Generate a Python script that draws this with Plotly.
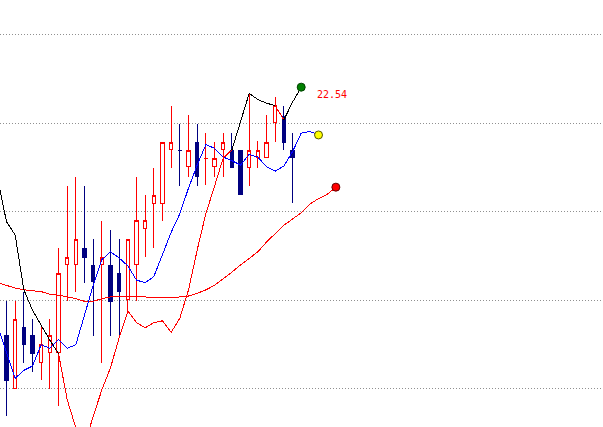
import plotly.graph_objects as go

# ---- candle data (bar index 0..33) ----
opens  = [19.60, 19.01, 19.70, 19.60, 19.30, 19.41, 19.41, 20.41, 20.41, 20.59,
          20.40, 20.41, 20.40, 20.30, 20.01, 20.41, 20.81, 21.10, 21.10, 21.71,
          21.69, 21.51, 21.79, 21.60, 21.51, 21.71, 21.70, 21.70, 21.50, 21.61,
          21.61, 22.01, 22.08, 21.70]
highs  = [19.99, 19.99, 20.10, 19.79, 19.70, 19.79, 20.59, 21.29, 21.40, 21.29,
          20.69, 20.90, 20.80, 20.69, 20.69, 21.40, 21.19, 21.50, 21.79, 22.20,
          21.99, 22.10, 21.99, 21.89, 21.79, 21.89, 21.89, 21.70, 22.34, 21.80,
          22.10, 22.30, 22.20, 21.89]
lows   = [18.69, 19.01, 19.29, 19.19, 19.10, 19.00, 18.81, 19.99, 20.10, 20.20,
          19.60, 19.29, 19.60, 19.61, 19.88, 19.99, 20.49, 20.59, 20.90, 21.50,
          21.29, 21.40, 21.29, 21.30, 21.40, 21.40, 21.50, 21.20, 21.29, 21.50,
          21.61, 21.79, 21.70, 21.10]
closes = [19.10, 19.79, 19.50, 19.40, 19.50, 19.60, 20.30, 20.49, 20.69, 20.49,
          20.21, 20.49, 19.99, 20.10, 20.69, 20.90, 20.90, 21.19, 21.79, 21.79,
          21.69, 21.70, 21.40, 21.60, 21.60, 21.79, 21.50, 21.20, 21.70, 21.70,
          21.79, 22.20, 21.79, 21.61]

# ---- indicator lines (start at bar -1, extend past the last bar) ----
k_line = [21.36, 20.89, 20.74, 20.12, 19.89, 19.72, 19.55, 19.40, 18.88, 18.56,
          18.37, 18.69, 18.99, 19.24, 19.58, 19.88, 19.75, 19.69, 19.75, 19.77,
          19.64, 19.80, 20.12, 20.57, 20.98, 21.29, 21.61, 21.70, 22.03, 22.34,
          22.27, 22.23, 22.20, 22.04, 22.24, 22.41]
# per segment signal: 1 = above (black), -1 = below (red)
k_signal = [1] * 7 + [-1] * 20 + [1] * 5 + [-1] * 1 + [1] * 2
ma_blue = [19.71, 19.42, 19.12, 19.21, 19.26, 19.50, 19.46, 19.56, 19.46, 19.50,
           19.84, 20.17, 20.46, 20.55, 20.48, 20.39, 20.23, 20.20, 20.27, 20.51,
           20.77, 20.98, 21.27, 21.53, 21.76, 21.72, 21.62, 21.58, 21.53, 21.65,
           21.62, 21.51, 21.46, 21.52, 21.68, 21.89, 21.91, 21.87]
ma_red = [20.20, 20.17, 20.14, 20.12, 20.11, 20.10, 20.07, 20.06, 20.04, 20.02,
          19.99, 19.99, 20.02, 20.04, 20.05, 20.05, 20.05, 20.04, 20.03, 20.03,
          20.03, 20.04, 20.05, 20.08, 20.12, 20.17, 20.24, 20.32, 20.40, 20.48,
          20.55, 20.66, 20.76, 20.85, 20.92, 20.99, 21.09, 21.15, 21.20, 21.28]
last_label = "22.54"
grid_levels = [19, 20, 21, 22, 23]

UP = "#FF0000"
DOWN = "#000080"

xs = list(range(len(opens)))
line_start = -1

# direction per candle (ties follow previous close)
is_up = []
prev_c = None
for o, c in zip(opens, closes):
    if c > o:
        d = True
    elif c < o:
        d = False
    else:
        d = prev_c is not None and c >= prev_c
    is_up.append(d)
    prev_c = c

fig = go.Figure()


def add_candles(flag, color, fill):
    idx = [i for i in xs if is_up[i] == flag]
    style = dict(line=dict(color=color, width=1), fillcolor=fill)
    fig.add_trace(go.Candlestick(
        x=[xs[i] for i in idx],
        open=[opens[i] for i in idx], high=[highs[i] for i in idx],
        low=[lows[i] for i in idx], close=[closes[i] for i in idx],
        increasing=style, decreasing=style, whiskerwidth=0,
        showlegend=False, hoverinfo="skip"))


add_candles(True, UP, "#FFFFFF")
add_candles(False, DOWN, DOWN)


def line_x(arr):
    return list(range(line_start, line_start + len(arr)))


# long red MA
fig.add_trace(go.Scatter(x=line_x(ma_red), y=ma_red, mode="lines",
                         line=dict(color="#FF0000", width=1),
                         showlegend=False, hoverinfo="skip"))
# blue MA
fig.add_trace(go.Scatter(x=line_x(ma_blue), y=ma_blue, mode="lines",
                         line=dict(color="#0000FF", width=1),
                         showlegend=False, hoverinfo="skip"))

# K line, split into colored runs
kx = line_x(k_line)
s = 0
while s < len(k_signal):
    e = s
    while e + 1 < len(k_signal) and k_signal[e + 1] == k_signal[s]:
        e += 1
    col = "#000000" if k_signal[s] > 0 else "#FF0000"
    fig.add_trace(go.Scatter(x=kx[s:e + 2], y=k_line[s:e + 2], mode="lines",
                             line=dict(color=col, width=1),
                             showlegend=False, hoverinfo="skip"))
    s = e + 1

# end dots
for arr, fc, lc in [(k_line, "#008000", "#004000"),
                    (ma_blue, "#FFFF00", "#555500"),
                    (ma_red, "#FF0000", "#600000")]:
    fig.add_trace(go.Scatter(x=[line_x(arr)[-1]], y=[arr[-1]], mode="markers",
                             marker=dict(size=8, color=fc, line=dict(color=lc, width=1)),
                             showlegend=False, hoverinfo="skip"))

fig.add_annotation(x=kx[-1], y=k_line[-1], text=last_label, showarrow=False,
                   xshift=31, yshift=-7,
                   font=dict(family="DejaVu Sans Mono", size=10, color="#FF0000"))

fig.update_layout(
    width=603, height=427, margin=dict(l=0, r=0, t=0, b=0),
    paper_bgcolor="#FFFFFF", plot_bgcolor="#FFFFFF",
    boxgap=0.42, showlegend=False,
    xaxis=dict(range=[-0.75, 68.82], showgrid=False, zeroline=False,
               showticklabels=False, ticks="", showline=False,
               rangeslider=dict(visible=False)),
    yaxis=dict(range=[18.570, 23.395], tickvals=grid_levels, showgrid=True,
               gridcolor="#909090", griddash="1px,2px", gridwidth=1,
               zeroline=False, showticklabels=False, ticks="", showline=False),
)

post = (
    "document.body.style.margin='0';document.body.style.overflow='hidden';"
    "var st=document.createElement('style');"
    "st.textContent='.boxlayer path, .scatterlayer .js-line{shape-rendering:crispEdges}';"
    "document.head.appendChild(st);"
)

fig.write_html("out.html", config={"displayModeBar": False}, post_script=post)
